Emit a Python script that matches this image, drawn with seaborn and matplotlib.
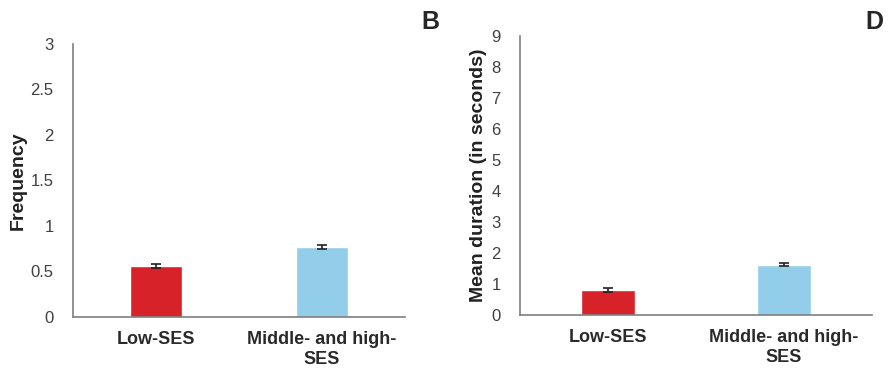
import numpy as np
import pandas as pd
import matplotlib
matplotlib.use("Agg")
import matplotlib.pyplot as plt
import seaborn as sns

# data
groups = ["Low-SES", "Middle- and high-\nSES"]
freq_mean = [0.56, 0.77]
freq_err = [0.02, 0.02]
dur_mean = [0.81, 1.62]
dur_err = [0.05, 0.05]
bar_colors = ["#D7222A", "#92CDEA"]

sns.set_style("white")
plt.rcParams["font.family"] = ["Liberation Sans", "DejaVu Sans"]

fig = plt.figure(figsize=(8.89, 3.69), dpi=100)
ax1 = fig.add_axes([0.0821, 0.141, 0.3735, 0.740])
ax2 = fig.add_axes([0.585, 0.146, 0.396, 0.756])


def draw_panel(ax, means, errs, ymax, ylabel):
    df = pd.DataFrame({"group": groups, "value": means})
    sns.barplot(data=df, x="group", y="value", hue="group", palette=bar_colors,
                width=0.31, legend=False, ax=ax, errorbar=None, saturation=1)
    ax.errorbar(np.arange(len(groups)), means, yerr=errs, fmt="none",
                ecolor="#222222", elinewidth=1.2, capsize=3.5, capthick=1.2)
    ax.set_ylim(0, ymax)
    ax.set_xlim(-0.5, len(groups) - 0.5)
    ax.set_yticks(np.arange(0, ymax + 0.01, 0.5 if ymax <= 3 else 1))
    ax.yaxis.set_major_formatter(plt.FuncFormatter(lambda v, p: f"{v:g}"))
    ax.tick_params(axis="y", length=0, labelsize=12, labelcolor="#404040", pad=14)
    ax.tick_params(axis="x", length=0, labelsize=13, pad=10)
    for lab in ax.get_xticklabels():
        lab.set_fontweight("bold")
        lab.set_color("#2a2a2a")
        lab.set_linespacing(1.25)
    ax.set_xlabel("")
    ax.set_ylabel(ylabel, fontsize=14, fontweight="bold", color="#222222", labelpad=3)
    for side in ["top", "right"]:
        ax.spines[side].set_visible(False)
    for side in ["left", "bottom"]:
        ax.spines[side].set_color("#7f7f7f")
        ax.spines[side].set_linewidth(1.2)


draw_panel(ax1, freq_mean, freq_err, 3, "Frequency")
draw_panel(ax2, dur_mean, dur_err, 9, "Mean duration (in seconds)")

fig.text(0.484, 0.94, "B", fontsize=18, fontweight="bold", ha="center", va="center")
fig.text(0.984, 0.94, "D", fontsize=18, fontweight="bold", ha="center", va="center")

fig.savefig("out.png", dpi=100)
